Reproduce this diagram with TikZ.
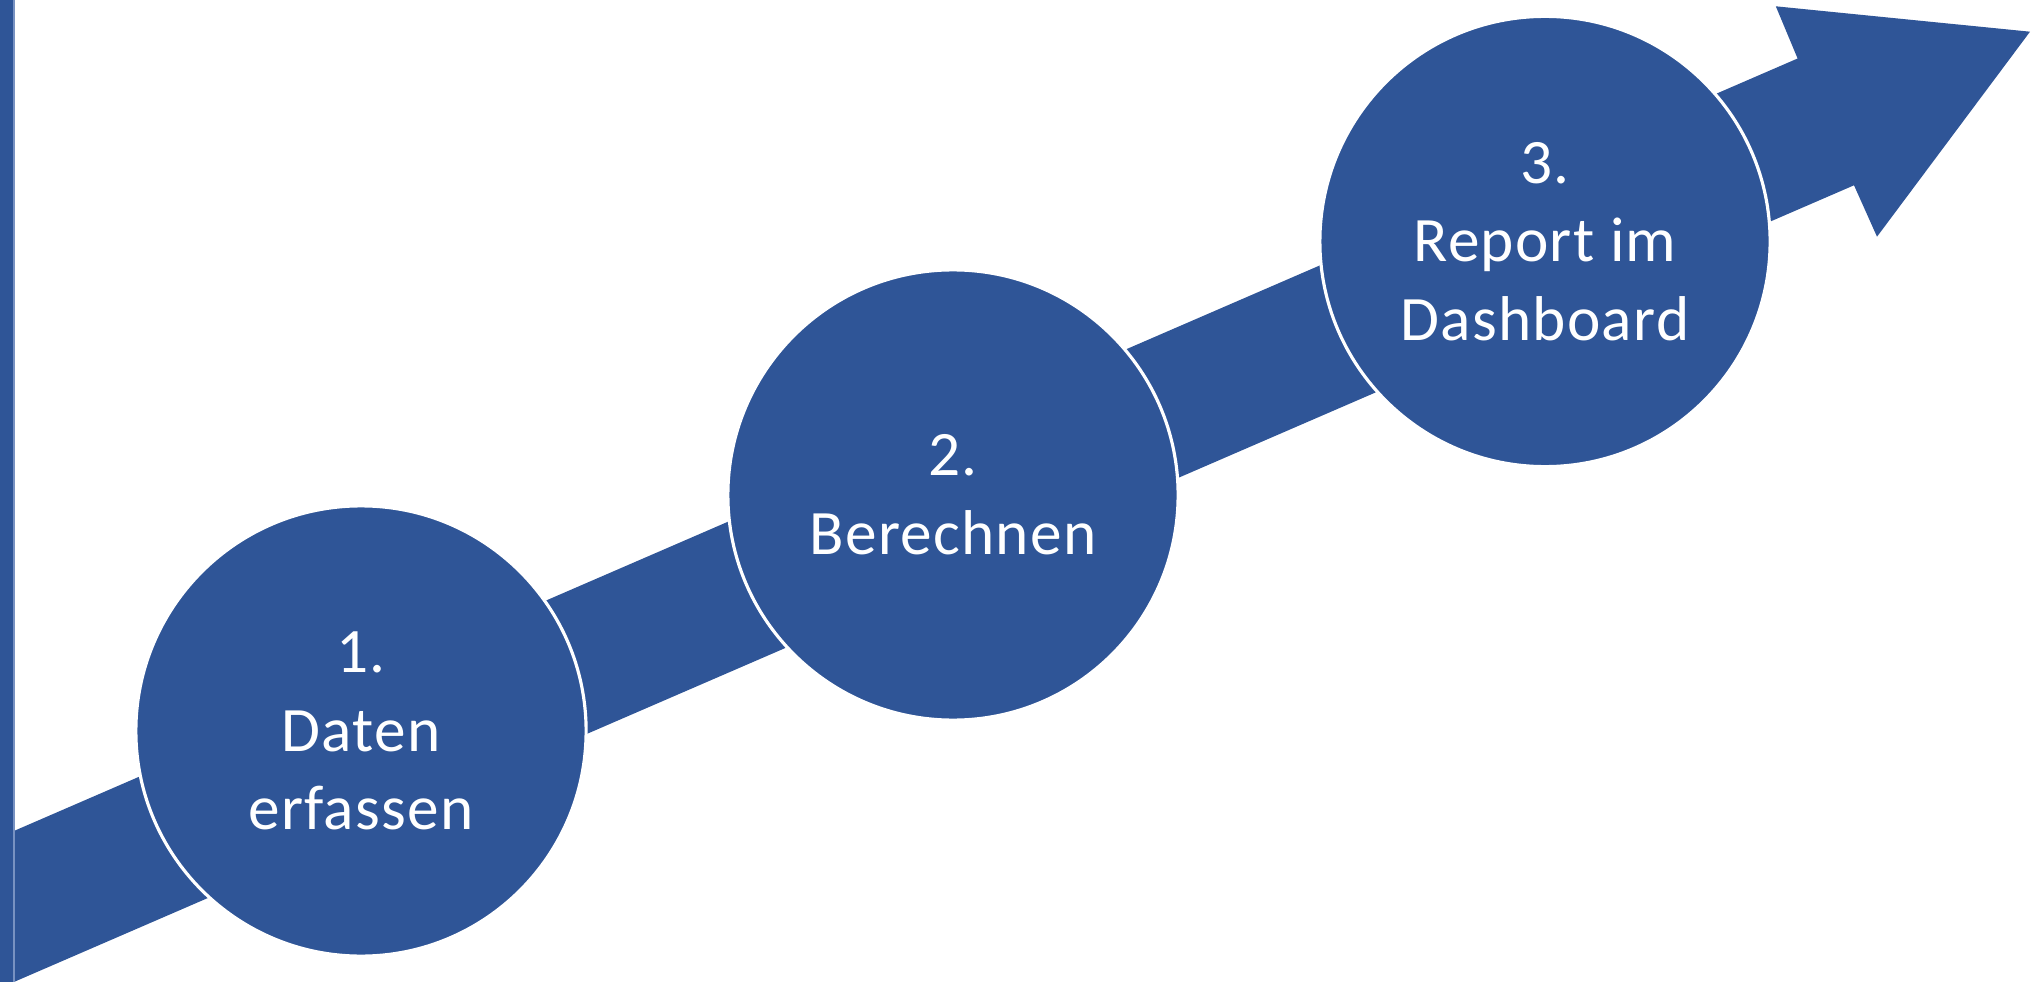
\documentclass[tikz,border=0pt]{standalone}
\usepackage{fontspec}
\setmainfont{Carlito}[LetterSpace=2]
\definecolor{stepblue}{RGB}{47,85,151}
\definecolor{edgeblue}{RGB}{120,146,194}
\begin{document}
\begin{tikzpicture}[x=0.01cm,y=-0.01cm,
  stepcircle/.style={circle,fill=stepblue,draw=white,line width=0.9pt,
    minimum size=4.5cm,inner sep=0pt,align=center,text=white,
    font=\fontsize{18}{22.4}\selectfont}]
\useasboundingbox (0,0) rectangle (2036,982);
% arrow band
\fill[stepblue] (0,837) -- (1797.6,58.5) -- (1775.8,6.3) -- (2030,31.7)
  -- (1877,236.7) -- (1854,185.3) -- (0,988) -- cycle;
% left bar
\fill[stepblue] (0,0) rectangle (14,982);
\draw[edgeblue,line width=0.4pt] (14,0) -- (14,982);
% steps
\node[stepcircle] (s1) at (361,731) {1.\\Daten\\erfassen};
\node[stepcircle] (s2) at (953,495) {2.\\Berechnen};
\node[stepcircle] (s3) at (1545,241.5) {3.\\Report im\\Dashboard};
\end{tikzpicture}
\end{document}
